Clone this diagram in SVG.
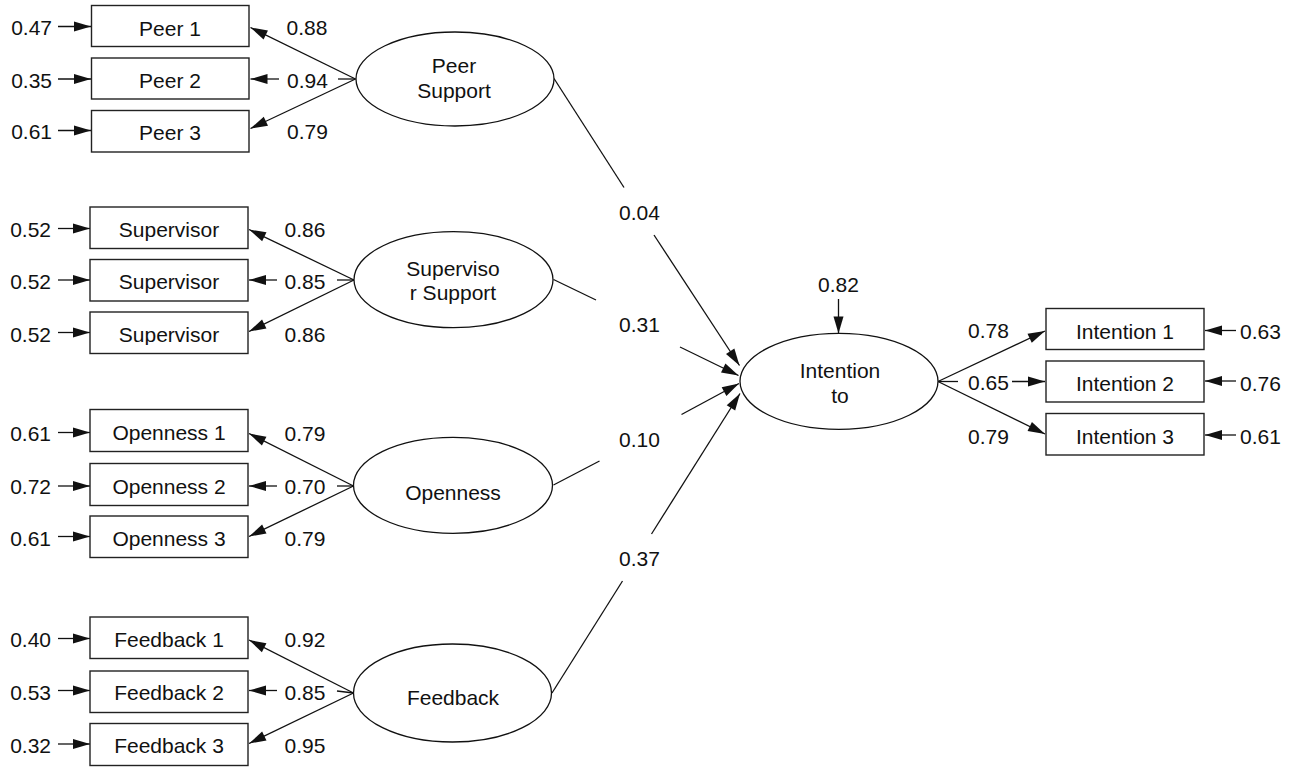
<svg xmlns="http://www.w3.org/2000/svg" width="1299" height="767" viewBox="0 0 1299 767">
  <style>
    text { font-family: "Liberation Sans", Arial, sans-serif; font-size: 21px; fill: #111; }
    .mid { text-anchor: middle; }
    .end { text-anchor: end; }
    .box { fill: #fff; stroke: #222; stroke-width: 1.4; }
    .ell { fill: #fff; stroke: #111; stroke-width: 1.3; }
    .ln { fill: none; stroke: #111; stroke-width: 1.3; }
    .arr { marker-end: url(#head); }
  </style>
  <defs>
    <marker id="head" markerUnits="userSpaceOnUse" markerWidth="18" markerHeight="11" refX="17" refY="5" orient="auto" overflow="visible">
      <path d="M0,0 L17,5 L0,10 z" fill="#111"/>
    </marker>
    <clipPath id="clipSup3">
      <rect x="90" y="312" width="158" height="33"/>
    </clipPath>
  </defs>

  <rect width="1299" height="767" fill="#fff"/>

  <!-- connectors: residual arrows, loadings and structural paths -->
  <g id="connectors">
    <!-- residuals into indicators (left side) -->
    <line class="ln arr" x1="58" y1="26.5" x2="91" y2="26.5"/>
    <line class="ln arr" x1="58" y1="79" x2="91" y2="79"/>
    <line class="ln arr" x1="58" y1="130.5" x2="91" y2="130.5"/>
    <line class="ln arr" x1="58" y1="228.5" x2="90" y2="228.5"/>
    <line class="ln arr" x1="58" y1="280" x2="90" y2="280"/>
    <line class="ln arr" x1="58" y1="332.5" x2="90" y2="332.5"/>
    <line class="ln arr" x1="58" y1="432.5" x2="90" y2="432.5"/>
    <line class="ln arr" x1="58" y1="486" x2="90" y2="486"/>
    <line class="ln arr" x1="58" y1="536.5" x2="90" y2="536.5"/>
    <line class="ln arr" x1="58" y1="638.5" x2="90" y2="638.5"/>
    <line class="ln arr" x1="58" y1="690.5" x2="90" y2="690.5"/>
    <line class="ln arr" x1="58" y1="744" x2="90" y2="744"/>

    <!-- Peer Support loadings -->
    <line class="ln arr" x1="355.5" y1="79" x2="250.5" y2="27.5"/>
    <line class="ln" x1="338" y1="79" x2="355.5" y2="79"/>
    <line class="ln arr" x1="279" y1="79" x2="250.5" y2="79"/>
    <line class="ln arr" x1="355.5" y1="79" x2="250.5" y2="128.5"/>

    <!-- Supervisor Support loadings -->
    <line class="ln arr" x1="354" y1="280" x2="249" y2="229.5"/>
    <line class="ln" x1="337" y1="280" x2="354" y2="280"/>
    <line class="ln arr" x1="277" y1="280" x2="249" y2="280"/>
    <line class="ln arr" x1="354" y1="280" x2="249" y2="331.5"/>

    <!-- Openness loadings -->
    <line class="ln arr" x1="353.5" y1="486" x2="249" y2="433.5"/>
    <line class="ln" x1="337" y1="486" x2="353.5" y2="486"/>
    <line class="ln arr" x1="277" y1="486" x2="249" y2="486"/>
    <line class="ln arr" x1="353.5" y1="486" x2="249" y2="536.5"/>

    <!-- Feedback loadings -->
    <line class="ln arr" x1="353.5" y1="693" x2="249" y2="640"/>
    <line class="ln" x1="337" y1="691" x2="353.5" y2="693"/>
    <line class="ln arr" x1="277" y1="690.5" x2="249" y2="690.5"/>
    <line class="ln arr" x1="353.5" y1="693" x2="249" y2="743.5"/>

    <!-- structural paths into Intention to (broken around the coefficients) -->
    <line class="ln" x1="554" y1="78.5" x2="624" y2="187.5"/>
    <line class="ln arr" x1="654" y1="235" x2="739.5" y2="365.5"/>
    <line class="ln" x1="553.5" y1="279.5" x2="596" y2="300"/>
    <line class="ln arr" x1="680" y1="347" x2="738.5" y2="375.5"/>
    <line class="ln" x1="553.5" y1="485" x2="599.5" y2="461"/>
    <line class="ln arr" x1="681.5" y1="414.5" x2="739" y2="383.5"/>
    <line class="ln" x1="552" y1="693" x2="622.5" y2="581"/>
    <line class="ln arr" x1="651.5" y1="534" x2="740" y2="393.5"/>

    <!-- disturbance of Intention to -->
    <line class="ln arr" x1="838.5" y1="299" x2="838.5" y2="333.5"/>

    <!-- Intention to loadings -->
    <line class="ln arr" x1="938" y1="381.5" x2="1045" y2="331"/>
    <line class="ln" x1="938" y1="381.5" x2="958" y2="381.5"/>
    <line class="ln arr" x1="1012" y1="381.5" x2="1045" y2="381.5"/>
    <line class="ln arr" x1="938" y1="381.5" x2="1045" y2="434"/>

    <!-- residuals into indicators (right side) -->
    <line class="ln arr" x1="1236" y1="330.5" x2="1205" y2="330.5"/>
    <line class="ln arr" x1="1236" y1="381" x2="1205" y2="381"/>
    <line class="ln arr" x1="1236" y1="435" x2="1205" y2="435"/>
  </g>

  <!-- coefficient labels -->
  <g id="labels">
    <!-- residual variances -->
    <text class="end" x="52" y="35">0.47</text>
    <text class="end" x="52" y="87.5">0.35</text>
    <text class="end" x="52" y="139">0.61</text>
    <text class="end" x="51" y="236.5">0.52</text>
    <text class="end" x="51" y="289">0.52</text>
    <text class="end" x="51" y="341.5">0.52</text>
    <text class="end" x="51" y="440.5">0.61</text>
    <text class="end" x="51" y="494">0.72</text>
    <text class="end" x="51" y="546">0.61</text>
    <text class="end" x="51" y="647">0.40</text>
    <text class="end" x="51" y="700">0.53</text>
    <text class="end" x="51" y="752.5">0.32</text>

    <!-- factor loadings -->
    <text x="286.5" y="35">0.88</text>
    <text x="287" y="87.5">0.94</text>
    <text x="287" y="139">0.79</text>
    <text x="284.5" y="236.5">0.86</text>
    <text x="284.5" y="289">0.85</text>
    <text x="284.5" y="342">0.86</text>
    <text x="284.5" y="440.5">0.79</text>
    <text x="284.5" y="494">0.70</text>
    <text x="284.5" y="546">0.79</text>
    <text x="284.5" y="647">0.92</text>
    <text x="284.5" y="700">0.85</text>
    <text x="284.5" y="752.5">0.95</text>

    <!-- path coefficients -->
    <text x="619" y="220">0.04</text>
    <text x="619" y="332">0.31</text>
    <text x="619" y="446.5">0.10</text>
    <text x="619" y="566">0.37</text>

    <text class="mid" x="838.5" y="292">0.82</text>

    <text x="968" y="337.5">0.78</text>
    <text x="968" y="390">0.65</text>
    <text x="968" y="444">0.79</text>

    <text x="1240" y="338.5">0.63</text>
    <text x="1240" y="390.5">0.76</text>
    <text x="1240" y="443.5">0.61</text>
  </g>

  <!-- indicators -->
  <g id="peer1"><rect class="box" x="91.5" y="5.5" width="157.5" height="41"/><text class="mid" x="170" y="36">Peer 1</text></g>
  <g id="peer2"><rect class="box" x="91.5" y="58" width="157.5" height="41"/><text class="mid" x="170" y="88">Peer 2</text></g>
  <g id="peer3"><rect class="box" x="91.5" y="110.5" width="157.5" height="41.5"/><text class="mid" x="170" y="139.5">Peer 3</text></g>

  <g id="supervisor1"><rect class="box" x="90" y="207" width="158" height="41.5"/><text class="mid" x="169" y="236.5">Supervisor</text></g>
  <g id="supervisor2"><rect class="box" x="90" y="259.5" width="158" height="41.5"/><text class="mid" x="169" y="288.5">Supervisor</text></g>
  <g id="supervisor3"><rect class="box" x="90" y="312" width="158" height="41.5"/><text class="mid" x="169" y="341.5" clip-path="url(#clipSup3)">Supervisor</text></g>

  <g id="openness1"><rect class="box" x="90" y="409.5" width="158" height="42"/><text class="mid" x="169" y="440">Openness 1</text></g>
  <g id="openness2"><rect class="box" x="90" y="463.5" width="158" height="42"/><text class="mid" x="169" y="493.5">Openness 2</text></g>
  <g id="openness3"><rect class="box" x="90" y="516" width="158" height="41.5"/><text class="mid" x="169" y="546">Openness 3</text></g>

  <g id="feedback1"><rect class="box" x="90" y="617" width="158" height="41.5"/><text class="mid" x="169" y="647">Feedback 1</text></g>
  <g id="feedback2"><rect class="box" x="90" y="671" width="158" height="41.5"/><text class="mid" x="169" y="700">Feedback 2</text></g>
  <g id="feedback3"><rect class="box" x="90" y="723.5" width="158" height="42"/><text class="mid" x="169" y="753">Feedback 3</text></g>

  <g id="intention1"><rect class="box" x="1046" y="308.5" width="158" height="41"/><text class="mid" x="1125" y="338.5">Intention 1</text></g>
  <g id="intention2"><rect class="box" x="1046" y="361" width="158" height="41"/><text class="mid" x="1125" y="390.5">Intention 2</text></g>
  <g id="intention3"><rect class="box" x="1046" y="413.5" width="158" height="41.5"/><text class="mid" x="1125" y="443.5">Intention 3</text></g>

  <!-- latent factors -->
  <g id="peer-support">
    <ellipse class="ell" cx="455" cy="79" rx="99" ry="47"/>
    <text class="mid" x="454" y="73">Peer</text>
    <text class="mid" x="454" y="98">Support</text>
  </g>
  <g id="supervisor-support">
    <ellipse class="ell" cx="453.5" cy="279.7" rx="99.5" ry="48"/>
    <text class="mid" x="453" y="276">Superviso</text>
    <text class="mid" x="453" y="300">r Support</text>
  </g>
  <g id="openness">
    <ellipse class="ell" cx="453" cy="485.3" rx="99.5" ry="48"/>
    <text class="mid" x="453" y="499.5">Openness</text>
  </g>
  <g id="feedback">
    <ellipse class="ell" cx="452.5" cy="693" rx="99" ry="49"/>
    <text class="mid" x="453" y="705">Feedback</text>
  </g>
  <g id="intention-to">
    <ellipse class="ell" cx="839" cy="381.3" rx="99" ry="48"/>
    <text class="mid" x="840" y="378">Intention</text>
    <text class="mid" x="840" y="402.5">to</text>
  </g>
</svg>
